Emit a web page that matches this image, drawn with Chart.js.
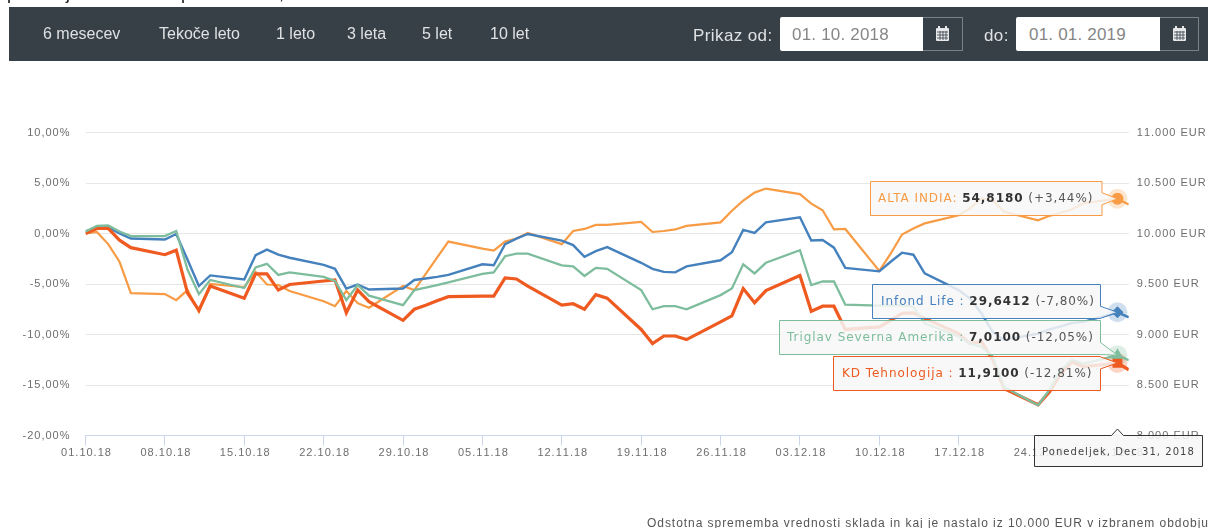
<!DOCTYPE html>
<html lang="sl">
  <head>
    <meta charset="UTF-8" />
    <title>Primerjava skladov</title>
    <script src="https://cdn.jsdelivr.net/npm/chart.js"></script>
    <style>
      html, body {
        margin: 0;
        padding: 0;
        width: 1208px;
        height: 528px;
        overflow: hidden;
        background: #fff;
        font-family: "Liberation Sans", sans-serif;
      }
      #myChart { position: absolute; left: 0; top: 0; }
      #overlay { position: absolute; left: 0; top: 0; pointer-events: none; }
      .bar {
        position: absolute;
        left: 9px;
        top: 7px;
        width: 1199px;
        height: 54px;
        background: #373f47;
      }
      .txt {
        position: absolute;
        white-space: nowrap;
        color: #dfe2e4;
      }
      .nav { top: 24px; font-size: 16px; line-height: 19px; letter-spacing: 0; }
      .lbl { top: 26px; font-size: 17px; line-height: 20px; letter-spacing: 0.4px; }
      .input {
        position: absolute;
        top: 17px;
        height: 34px;
        background: #fff;
        border-radius: 2px 0 0 2px;
        color: #868686;
        font-size: 17px;
        line-height: 35px;
        letter-spacing: 0.2px;
        box-sizing: border-box;
      }
      .btn {
        position: absolute;
        top: 17px;
        height: 34px;
        box-sizing: border-box;
        border: 1px solid #79828a;
        border-left: none;
      }
      .top {
        position: absolute;
        top: -17px;
        font-size: 18px;
        line-height: 20px;
        color: #111;
      }
      .note {
        position: absolute;
        left: 647px;
        top: 516px;
        white-space: nowrap;
        font-size: 12px;
        line-height: 14px;
        letter-spacing: 0.95px;
        color: #555;
      }
    </style>
  </head>
  <body>
    <canvas id="myChart" width="1208" height="528"></canvas>

    <span class="top" style="left: 7px">p</span>
    <span class="top" style="left: 66px">j</span>
    <span class="top" style="left: 181px">p</span>
    <span class="top" style="left: 279px">,</span>

    <div class="bar"></div>
    <span class="txt nav" style="left: 43px">6 mesecev</span>
    <span class="txt nav" style="left: 159px">Tekoče leto</span>
    <span class="txt nav" style="left: 276px">1 leto</span>
    <span class="txt nav" style="left: 347px">3 leta</span>
    <span class="txt nav" style="left: 422px">5 let</span>
    <span class="txt nav" style="left: 490px">10 let</span>

    <span class="txt lbl" style="left: 693px">Prikaz od:</span>
    <div class="input" style="left: 780px; width: 143px; padding-left: 12px">01. 10. 2018</div>
    <div class="btn" style="left: 923px; width: 40px">
      <svg width="39" height="32"><use href="#cal" /></svg>
    </div>
    <span class="txt lbl" style="left: 984px">do:</span>
    <div class="input" style="left: 1016px; width: 144px; padding-left: 13px">01. 01. 2019</div>
    <div class="btn" style="left: 1160px; width: 39px">
      <svg width="38" height="32"><use href="#cal" /></svg>
    </div>

    <svg width="0" height="0" style="position: absolute">
      <defs>
        <g id="cal" fill="#e6e8ea">
          <rect x="13" y="10" width="13" height="13" rx="1" />
          <rect x="15" y="8" width="2" height="3" />
          <rect x="22" y="8" width="2" height="3" />
          <path d="M14 14h11M14 17h11M14 20h11M17 13v9M20 13v9M23 13v9" stroke="#373f47" stroke-width="0.8" />
        </g>
      </defs>
    </svg>

    <svg id="overlay" width="1208" height="528"></svg>

    <div class="note">Odstotna sprememba vrednosti sklada in kaj je nastalo iz 10.000 EUR v izbranem obdobju</div>

    <script>
      const dates = [
        "01.10.18", "02.10.18", "03.10.18", "04.10.18", "05.10.18",
        "08.10.18", "09.10.18", "10.10.18", "11.10.18", "12.10.18",
        "15.10.18", "16.10.18", "17.10.18", "18.10.18", "19.10.18",
        "22.10.18", "23.10.18", "24.10.18", "25.10.18", "26.10.18",
        "29.10.18", "30.10.18", "31.10.18", "01.11.18", "02.11.18",
        "05.11.18", "06.11.18", "07.11.18", "08.11.18", "09.11.18",
        "12.11.18", "13.11.18", "14.11.18", "15.11.18", "16.11.18",
        "19.11.18", "20.11.18", "21.11.18", "22.11.18", "23.11.18",
        "26.11.18", "27.11.18", "28.11.18", "29.11.18", "30.11.18",
        "03.12.18", "04.12.18", "05.12.18", "06.12.18", "07.12.18",
        "10.12.18", "11.12.18", "12.12.18", "13.12.18", "14.12.18",
        "17.12.18", "18.12.18", "19.12.18", "20.12.18", "21.12.18",
        "24.12.18", "25.12.18", "26.12.18", "27.12.18", "28.12.18",
        "31.12.18", "01.01.19",
      ];

      const altaIndia = [
        0, 0.15, -1.05, -2.8, -5.9,
        -6.0, -6.6, -5.6, -7.75, -5.0,
        -5.3, -3.8, -5.05, -5.1, -5.7,
        -6.7, -7.2, -5.7, -6.9, -7.35,
        -5.2, -5.6, -4.0, -2.4, -0.8,
        -1.5, -1.7, -0.8, -0.5, 0.05,
        -1.05, 0.25, 0.45, 0.85, 0.85,
        1.15, 0.15, 0.25, 0.4, 0.75,
        1.1, 2.25, 3.25, 4.05, 4.45,
        3.9, 2.95, 2.3, 0.4, 0.45,
        -3.7, -2.0, -0.1, 0.5, 1.0,
        1.8, 2.5, 3.45, 3.3, 2.15,
        1.3, 1.75, 2.05, 2.4, 3.0,
        3.44, 2.87,
      ];
      const infondLife = [
        0.2, 0.6, 0.6, 0, -0.5,
        -0.6, -0.05, -2.6, -5.2, -4.15,
        -4.55, -2.15, -1.6, -2.1, -2.4,
        -3.1, -3.5, -5.45, -5.05, -5.55,
        -5.45, -4.6, -4.45, -4.3, -4.1,
        -3.05, -3.15, -1.05, -0.5, -0.05,
        -0.7, -1.15, -2.3, -1.75, -1.35,
        -2.9, -3.5, -3.8, -3.85, -3.25,
        -2.65, -1.85, 0.35, 0.05, 1.1,
        1.6, -0.7, -0.65, -1.4, -3.4,
        -3.75, -2.8, -1.9, -2.1, -3.95,
        -5.6, -6.45, -7.9, -9.75, -10.55,
        -9.9, -9.5, -9.2, -8.85, -8.75,
        -7.8, -8.3,
      ];
      const triglavSevernaAmerika = [
        0.2, 0.75, 0.8, 0.2, -0.25,
        -0.25, 0.25, -3.6, -6.0, -4.6,
        -5.4, -3.35, -3.0, -4.1, -3.85,
        -4.3, -4.7, -6.6, -5.1, -6.15,
        -7.1, -5.6, -5.35, -5.1, -4.85,
        -4.0, -3.85, -2.25, -2.0, -2.0,
        -3.15, -3.25, -4.2, -3.4, -3.5,
        -5.6, -7.5, -7.2, -7.2, -7.5,
        -6.1, -5.45, -3.05, -3.95, -2.9,
        -1.65, -5.1, -4.75, -4.75, -7.05,
        -7.15, -7.15, -7.1, -7.25, -8.9,
        -10.2, -10.9, -11.2, -12.2, -15.2,
        -17.0, -15.5, -13.5, -12.5, -12.9,
        -12.05, -12.55,
      ];
      const kdTehnologija = [
        0, 0.5, 0.5, -0.66, -1.4,
        -2.1, -1.65, -5.9, -7.6, -5.2,
        -6.4, -4.0, -4.0, -5.6, -5.05,
        -4.7, -4.6, -7.85, -5.6, -6.75,
        -8.6, -7.5, -7.1, -6.65, -6.25,
        -6.2, -6.2, -4.4, -4.5, -5.2,
        -7.1, -6.95, -7.5, -6.05, -6.4,
        -9.5, -10.9, -10.15, -10.15, -10.5,
        -8.75, -8.15, -5.45, -6.85, -5.65,
        -4.15, -7.7, -7.2, -7.2, -9.5,
        -9.25, -8.6, -7.9, -7.85, -8.4,
        -9.9, -10.9, -10.7, -12.5, -15.35,
        -16.95, -15.7, -13.9, -12.7, -13.2,
        -12.81, -13.5,
      ];

      const percentTicks = [-20, -15, -10, -5, 0, 5, 10];
      const euroTicks = [8000, 8500, 9000, 9500, 10000, 10500, 11000];

      const orange = "#f79b45";
      const blue = "#4581bd";
      const green = "#7dbd9d";
      const red = "#ee5a1f";

      function dayOffset(text) {
        const [d, m, y] = text.split(".").map(Number);
        return (Date.UTC(2000 + y, m - 1, d) - Date.UTC(2018, 9, 1)) / 86400000;
      }

      function dayLabel(offset) {
        const date = new Date(Date.UTC(2018, 9, 1) + offset * 86400000);
        const dd = String(date.getUTCDate()).padStart(2, "0");
        const mm = String(date.getUTCMonth() + 1).padStart(2, "0");
        return `${dd}.${mm}.${String(date.getUTCFullYear()).slice(2)}`;
      }

      const days = dates.map(dayOffset);
      const hovered = dates.indexOf("31.12.18");
      const axisFont = { family: "'Liberation Sans', sans-serif", size: 11 };
      const axisColor = "#6e6e6e";

      function makeSeries(label, values, color, width, style, size) {
        return {
          label,
          data: values.map((v, i) => ({ x: days[i], y: v })),
          borderColor: color,
          backgroundColor: color,
          borderWidth: width,
          pointStyle: style,
          pointRadius: (c) => (c.dataIndex === hovered ? size : 0),
          pointBorderWidth: 0,
          tension: 0,
        };
      }

      const haloPlugin = {
        id: "halo",
        beforeDatasetsDraw(chart) {
          const ctx = chart.ctx;
          chart.data.datasets.forEach((ds, i) => {
            const p = chart.getDatasetMeta(i).data[hovered];
            ctx.save();
            ctx.globalAlpha = 0.25;
            ctx.fillStyle = ds.borderColor;
            ctx.beginPath();
            ctx.arc(p.x, p.y, 10, 0, Math.PI * 2);
            ctx.fill();
            ctx.restore();
          });
        },
      };

      const spacingPlugin = {
        id: "spacing",
        beforeDraw(chart) {
          chart.ctx.letterSpacing = "1px";
          chart.ctx.fontKerning = "none";
        },
      };

      const myChart = new Chart(document.getElementById("myChart"), {
        type: "line",
        data: {
          datasets: [
            makeSeries("Triglav Severna Amerika", triglavSevernaAmerika, green, 2.3, "triangle", 7),
            makeSeries("KD Tehnologija", kdTehnologija, red, 3.2, "rect", 7),
            makeSeries("Infond Life", infondLife, blue, 2.4, "rectRot", 6),
            makeSeries("ALTA INDIA", altaIndia, orange, 2.2, "circle", 6),
          ],
        },
        options: {
          responsive: false,
          animation: false,
          events: [],
          layout: { padding: { left: 0, right: 0, top: 132.5, bottom: 62.5 } },
          plugins: { legend: { display: false }, tooltip: { enabled: false } },
          scales: {
            x: {
              type: "linear",
              min: 0,
              max: 92,
              afterFit: (s) => { s.height = 30; },
              border: { color: "#ccd6eb" },
              grid: { drawOnChartArea: false, tickLength: 10, tickColor: "#ccd6eb" },
              ticks: {
                stepSize: 7,
                includeBounds: false,
                autoSkip: false,
                maxRotation: 0,
                padding: 1,
                labelOffset: 1,
                color: axisColor,
                font: axisFont,
                callback: (v) => dayLabel(v),
              },
            },
            y: {
              position: "left",
              min: percentTicks[0],
              max: percentTicks[percentTicks.length - 1],
              afterFit: (s) => { s.width = 85.5; },
              border: { display: false },
              grid: { color: "#e6e6e6", drawTicks: false },
              afterBuildTicks: (s) => { s.ticks = percentTicks.map((value) => ({ value })); },
              ticks: {
                padding: 15,
                color: axisColor,
                font: axisFont,
                callback: (v) => v.toFixed(2).replace(".", ",") + "%",
              },
            },
            y1: {
              position: "right",
              min: euroTicks[0],
              max: euroTicks[euroTicks.length - 1],
              afterFit: (s) => { s.width = 79.2; },
              border: { display: false },
              grid: { display: false, drawTicks: false },
              afterBuildTicks: (s) => { s.ticks = euroTicks.map((value) => ({ value })); },
              ticks: {
                padding: 8,
                color: axisColor,
                font: axisFont,
                callback: (v) => Math.floor(v / 1000) + "." + String(v % 1000).padStart(3, "0") + " EUR",
              },
            },
          },
        },
        plugins: [spacingPlugin, haloPlugin],
      });
      myChart.draw();

      // tooltips over the chart, the callout tip comes from the point on the chart
      const NS = "http://www.w3.org/2000/svg";
      const overlay = document.getElementById("overlay");

      function addNode(parent, name, attrs, text) {
        const node = document.createElementNS(NS, name);
        Object.entries(attrs).forEach(([k, v]) => node.setAttribute(k, v));
        if (text) node.textContent = text;
        parent.appendChild(node);
        return node;
      }

      function addTooltip(datasetIndex, color, box, parts) {
        const p = myChart.getDatasetMeta(datasetIndex).data[hovered];
        const baseY = Math.min(Math.max(p.y, box.top + 6), box.bottom - 6);
        const d =
          `M${box.left} ${box.top}H${box.right}V${baseY - 6}L${p.x} ${p.y}` +
          `L${box.right} ${baseY + 6}V${box.bottom}H${box.left}Z`;
        addNode(overlay, "path", {
          d,
          fill: "rgba(247,247,247,0.85)",
          stroke: color,
          "stroke-width": 1,
          "stroke-linejoin": "round",
        });
        const text = addNode(overlay, "text", {
          x: box.textX,
          y: box.baseline,
          "font-family": "'DejaVu Sans', sans-serif",
          "font-size": 12,
          "letter-spacing": 0.95,
          "xml:space": "preserve",
        });
        addNode(text, "tspan", { fill: color }, parts[0]);
        addNode(text, "tspan", { fill: "#333", "font-weight": "bold" }, parts[1]);
        addNode(text, "tspan", { fill: "#555" }, parts[2]);
      }

      addTooltip(3, orange, { left: 870.5, right: 1102, top: 181.5, bottom: 215.5, textX: 878, baseline: 201.5 },
        ["ALTA INDIA: ", "54,8180", " (+3,44%)"]);
      addTooltip(2, blue, { left: 872.5, right: 1100.5, top: 284.5, bottom: 318.5, textX: 881, baseline: 304.5 },
        ["Infond Life : ", "29,6412", " (-7,80%)"]);
      addTooltip(0, green, { left: 779.5, right: 1100.5, top: 320.5, bottom: 354.5, textX: 787, baseline: 340.5 },
        ["Triglav Severna Amerika : ", "7,0100", " (-12,05%)"]);
      addTooltip(1, red, { left: 833.5, right: 1100.5, top: 356.5, bottom: 390.5, textX: 842, baseline: 376.5 },
        ["KD Tehnologija : ", "11,9100", " (-12,81%)"]);

      // date label under the crosshair
      const dateX = myChart.scales.x.getPixelForValue(days[hovered]);
      addNode(overlay, "path", {
        d: `M1034.5 435.5H${dateX - 6}L${dateX} 429L${dateX + 6} 435.5H1202.5V466.5H1034.5Z`,
        fill: "rgba(247,247,247,0.85)",
        stroke: "#333",
        "stroke-width": 1,
        "stroke-linejoin": "round",
      });
      addNode(overlay, "text", {
        x: 1042,
        y: 455,
        fill: "#444",
        "font-family": "'DejaVu Sans', sans-serif",
        "font-size": 10,
        "letter-spacing": 1.05,
      }, "Ponedeljek, Dec 31, 2018");
    </script>
  </body>
</html>
